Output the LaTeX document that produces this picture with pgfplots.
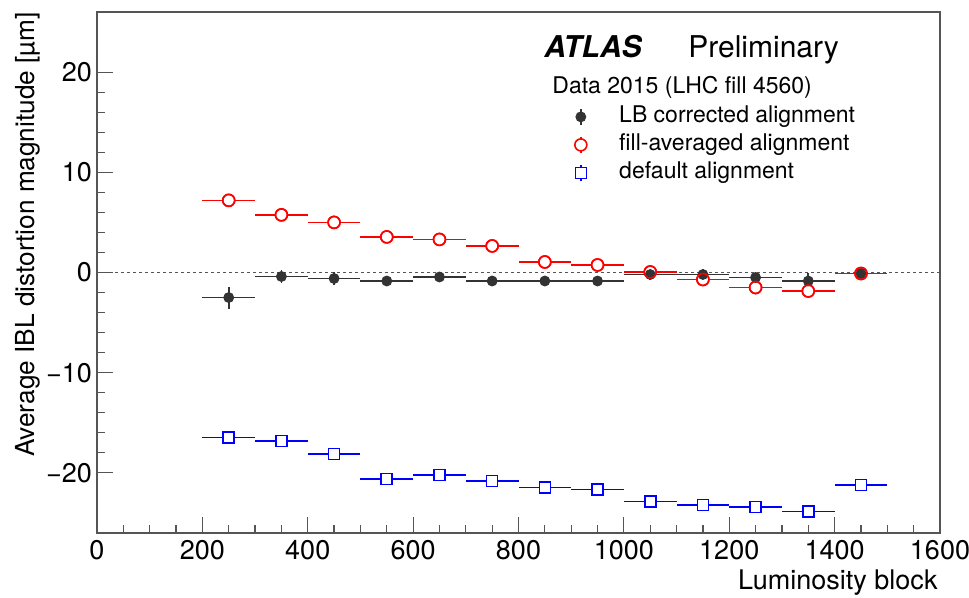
\documentclass[border=0pt]{standalone}
\usepackage{fontspec}
\setmainfont{TeX Gyre Heros}
\usepackage{pgfplots}
\usepackage{pgfplotstable}
\pgfplotsset{compat=1.18}
\definecolor{lbgray}{HTML}{333333}
\definecolor{axgray}{HTML}{555555}

% columns: luminosity block, distortion [um], half bin width, error
\pgfplotstableread{
x y ex ey
250 -2.50 50 1.1
350 -0.40 50 0.6
450 -0.60 50 0.6
550 -0.85 50 0.5
650 -0.45 50 0.5
750 -0.85 50 0.5
850 -0.85 50 0.5
950 -0.85 50 0.5
1050 -0.20 50 0.5
1150 -0.20 50 0.5
1250 -0.50 50 0.5
1350 -0.85 50 0.8
1450 -0.10 50 0.5
}\lbcorr

\pgfplotstableread{
x y ex ey
250 7.20 50 0.6
350 5.75 50 0.5
450 5.00 50 0.5
550 3.55 50 0.5
650 3.30 50 0.5
750 2.65 50 0.5
850 1.05 50 0.5
950 0.75 50 0.5
1050 0.05 50 0.5
1150 -0.70 50 0.5
1250 -1.50 50 0.5
1350 -1.85 50 0.5
1450 -0.10 50 0.5
}\fillavg

\pgfplotstableread{
x y ex ey
250 -16.45 50 0.6
350 -16.80 50 0.6
450 -18.10 50 0.6
550 -20.60 50 0.6
650 -20.20 50 0.6
750 -20.80 50 0.6
850 -21.45 50 0.6
950 -21.65 50 0.6
1050 -22.85 50 0.6
1150 -23.20 50 0.6
1250 -23.40 50 0.6
1350 -23.85 50 0.5
1450 -21.20 50 0.5
}\defalign

% error bars only (drawn under the markers)
\pgfplotsset{
  errs/.style={only marks, mark=none, forget plot,
               error bars/.cd, x dir=both, x explicit, y dir=both, y explicit,
               error mark=none, error bar style={line width=0.8pt, #1}},
  lbmark/.style={only marks, lbgray, mark=*, mark size=2.5pt},
  fillmark/.style={only marks, red, mark=*, mark size=3pt,
                   mark options={fill=white, line width=0.8pt}},
  defmark/.style={only marks, blue, mark=square*, mark size=2.75pt,
                  mark options={fill=white, line width=0.8pt}},
}

\begin{document}
\begin{tikzpicture}
\useasboundingbox (-48.5pt,-32.5pt) rectangle (436pt,266.5pt);
\begin{axis}[
  at={(0pt,0pt)}, anchor=south west,
  scale only axis, width=421.5pt, height=260.5pt,
  xmin=0, xmax=1600, ymin=-26, ymax=26,
  xtick={0,200,...,1600},
  xticklabels={0,200,400,600,800,1000,1200,1400,1600},
  minor x tick num=3,
  ytick={-20,-10,0,10,20},
  yticklabels={−20,−10,0,10,20},
  minor y tick num=4,
  xtick pos=bottom, ytick pos=left, tick align=inside,
  major tick length=8pt, minor tick length=4pt,
  tick style={axgray, line width=0.6pt},
  axis line style={axgray, line width=0.7pt},
  ticklabel style={font=\fontsize{13.5}{16}\selectfont},
  yticklabel style={xshift=1pt},
  legend cell align=left,
  legend style={at={(0.5635,0.8263)}, anchor=north west, draw=none, fill=none,
    inner sep=0pt, row sep=0pt, font=\fontsize{11.5}{14}\selectfont,
    nodes={inner xsep=0pt, inner ysep=1.75pt, text height=8pt, text depth=2.5pt},
    /tikz/every odd column/.append style={column sep=15pt}},
  legend image code/.code={
    \draw[#1, mark=none, line width=0.8pt] (0pt,-4pt) -- (0pt,4pt);
    \draw[#1] plot coordinates {(0pt,0pt)};
    \path (-4pt,0pt) (4pt,0pt);
  },
]
\addplot[axgray, dash pattern=on 1.5pt off 1.5pt, line width=0.5pt, forget plot]
  coordinates {(0,0) (1600,0)};

\addplot[errs=lbgray] table[x=x, y=y, x error=ex, y error=ey] {\lbcorr};
\addplot[errs=red] table[x=x, y=y, x error=ex, y error=ey] {\fillavg};
\addplot[errs=blue] table[x=x, y=y, x error=ex, y error=ey] {\defalign};

\addplot[fillmark, forget plot] table[x=x, y=y] {\fillavg};
\addplot[defmark, forget plot] table[x=x, y=y] {\defalign};
\addplot[lbmark, forget plot] table[x=x, y=y] {\lbcorr};
% open rings on top so the black dots show inside them
\addplot[only marks, red, mark=o, mark size=3pt, mark options={line width=0.8pt},
  forget plot] table[x=x, y=y] {\fillavg};

\addlegendimage{lbmark}
\addlegendentry{LB corrected alignment}
\addlegendimage{fillmark}
\addlegendentry{fill-averaged alignment}
\addlegendimage{defmark}
\addlegendentry{default alignment}
\end{axis}

\node[anchor=base west, inner sep=0, font=\fontsize{15}{18}\selectfont\bfseries\itshape]
  at (223.5pt,237.5pt) {ATLAS};
\node[anchor=base west, inner sep=0, font=\fontsize{15}{18}\selectfont]
  at (295.5pt,237.5pt) {Preliminary};
\node[anchor=base west, inner sep=0, font=\fontsize{11.5}{14}\selectfont]
  at (227.5pt,219.5pt) {Data 2015 (LHC fill 4560)};
\node[rotate=90, anchor=north east, inner sep=0, font=\fontsize{13.1}{16}\selectfont]
  at (-41pt,260.5pt) {Average IBL distortion magnitude [µm]};
\node[anchor=base east, inner sep=0, font=\fontsize{13.5}{16}\selectfont]
  at (420.5pt,-28.5pt) {Luminosity block};
\end{tikzpicture}
\end{document}
